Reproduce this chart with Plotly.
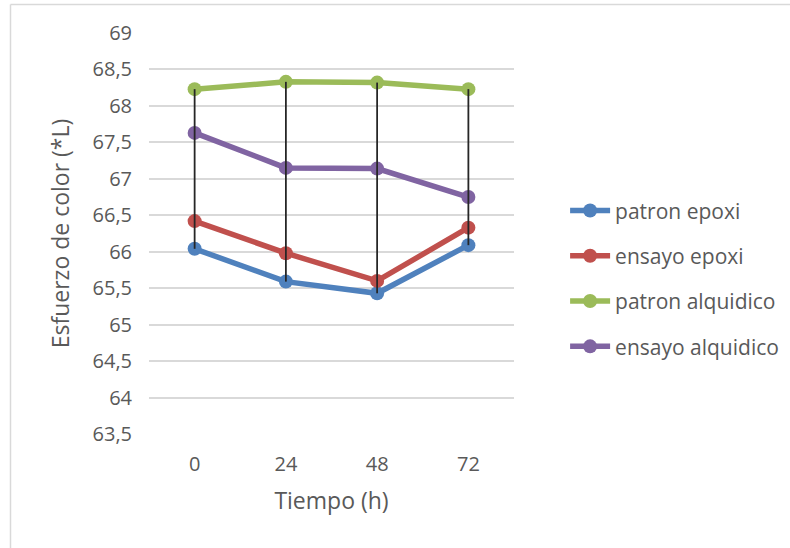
import plotly.graph_objects as go

# Sample times (h) and colour effort readings (*L)
tiempos = ["0", "24", "48", "72"]
patron_epoxi = [66.04, 65.59, 65.43, 66.09]
ensayo_epoxi = [66.42, 65.98, 65.60, 66.33]
patron_alquidico = [68.23, 68.33, 68.32, 68.23]
ensayo_alquidico = [67.63, 67.15, 67.14, 66.75]

series = [
    ("patron epoxi", patron_epoxi, "#4F81BD"),
    ("ensayo epoxi", ensayo_epoxi, "#C0504D"),
    ("patron alquidico", patron_alquidico, "#9BBB59"),
    ("ensayo alquidico", ensayo_alquidico, "#8064A2"),
]

FONT = "Open Sans"
GREY = "#595959"

fig = go.Figure()
for name, vals, color in series:
    fig.add_trace(go.Scatter(
        x=tiempos, y=vals, name=name, legendgroup=name,
        mode="lines+markers",
        line=dict(color=color, width=5.5),
        marker=dict(color=color, size=14),
    ))

# High-low lines joining the max and min value at each time
hx, hy = [], []
for i, t in enumerate(tiempos):
    col = [s[1][i] for s in series]
    hx += [t, t, None]
    hy += [max(col), min(col), None]
fig.add_trace(go.Scatter(
    x=hx, y=hy, mode="lines", showlegend=False, hoverinfo="skip",
    line=dict(color="#262626", width=1.8),
))

ticks = [63.5 + 0.5 * k for k in range(12)]
tick_text = [f"{v:g}".replace(".", ",") for v in ticks]

fig.update_layout(
    width=790, height=548,
    margin=dict(l=149, r=276, t=33, b=114, autoexpand=False),
    paper_bgcolor="white", plot_bgcolor="white",
    font=dict(family=FONT, color=GREY, size=18),
    separators=",.",
    showlegend=True,
    legend=dict(
        x=1.14, y=0.387, xanchor="left", yanchor="middle",
        font=dict(family=FONT, size=21, color=GREY),
        traceorder="grouped", tracegroupgap=15, itemwidth=40,
        bgcolor="rgba(0,0,0,0)",
    ),
    xaxis=dict(
        type="category", range=[-0.5, 3.5],
        showgrid=False, showline=False, zeroline=False,
        ticks="", tickfont=dict(size=20, color=GREY),
        ticklabelstandoff=16,
        title=dict(text="Tiempo (h)", font=dict(size=23, color=GREY), standoff=16),
    ),
    yaxis=dict(
        range=[63.5, 69],
        tickmode="array", tickvals=ticks, ticktext=tick_text,
        showgrid=True, gridcolor="#D9D9D9", gridwidth=1.5,
        zeroline=False, showline=False, ticks="",
        tickfont=dict(size=20, color=GREY),
        ticklabelstandoff=16,
        title=dict(text="Esfuerzo de color (*L)", font=dict(size=23, color=GREY), standoff=16),
    ),
)

# Chart area border (top and left edges)
fig.add_shape(type="line", xref="paper", yref="paper",
              x0=(10.5 - 149) / 365, x1=(790 - 149) / 365,
              y0=(434 - 4.5) / 401, y1=(434 - 4.5) / 401,
              line=dict(color="#D9D9D9", width=1.5))
fig.add_shape(type="line", xref="paper", yref="paper",
              x0=(10.5 - 149) / 365, x1=(10.5 - 149) / 365,
              y0=(434 - 548) / 401, y1=(434 - 4.5) / 401,
              line=dict(color="#D9D9D9", width=1.5))

fig.write_html("out.html")
